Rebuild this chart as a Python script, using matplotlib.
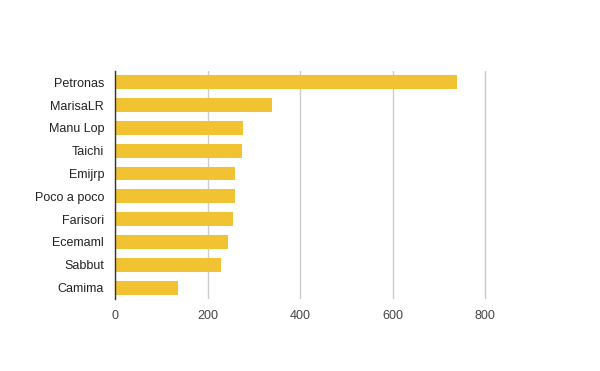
import matplotlib
matplotlib.use("Agg")
import matplotlib.pyplot as plt

# values
names = ['Petronas', 'MarisaLR', 'Manu Lop', 'Taichi', 'Emijrp',
         'Poco a poco', 'Farisori', 'Ecemaml', 'Sabbut', 'Camima']
counts = [739, 338, 277, 275, 260, 259, 254, 243, 228, 135]
xticks = [0, 200, 400, 600, 800]

plt.rcParams['font.family'] = ['Liberation Sans', 'DejaVu Sans']

fig = plt.figure(figsize=(6, 3.71), dpi=100)
ax = fig.add_axes([0.192, 0.194, 0.6244, 0.615])

pos = list(range(len(names)))
ax.barh(pos, counts, height=0.61, color='#f1c232', zorder=2)

ax.set_ylim(len(names) - 0.5, -0.5)
ax.set_xlim(0, 810)
ax.set_yticks(pos)
ax.set_yticklabels(names, fontsize=9, color='#222222')
ax.set_xticks(xticks)
ax.set_xticklabels([str(t) for t in xticks], fontsize=9, color='#444444')
ax.tick_params(axis='both', length=0)
ax.tick_params(axis='y', pad=8)
ax.tick_params(axis='x', pad=8)

ax.grid(axis='x', color='#cccccc', linewidth=1, zorder=0)
for s in ['top', 'right', 'bottom']:
    ax.spines[s].set_visible(False)
ax.spines['left'].set_color('#333333')
ax.spines['left'].set_linewidth(1)
ax.spines['left'].set_zorder(3)

fig.savefig('out.png', dpi=100)
